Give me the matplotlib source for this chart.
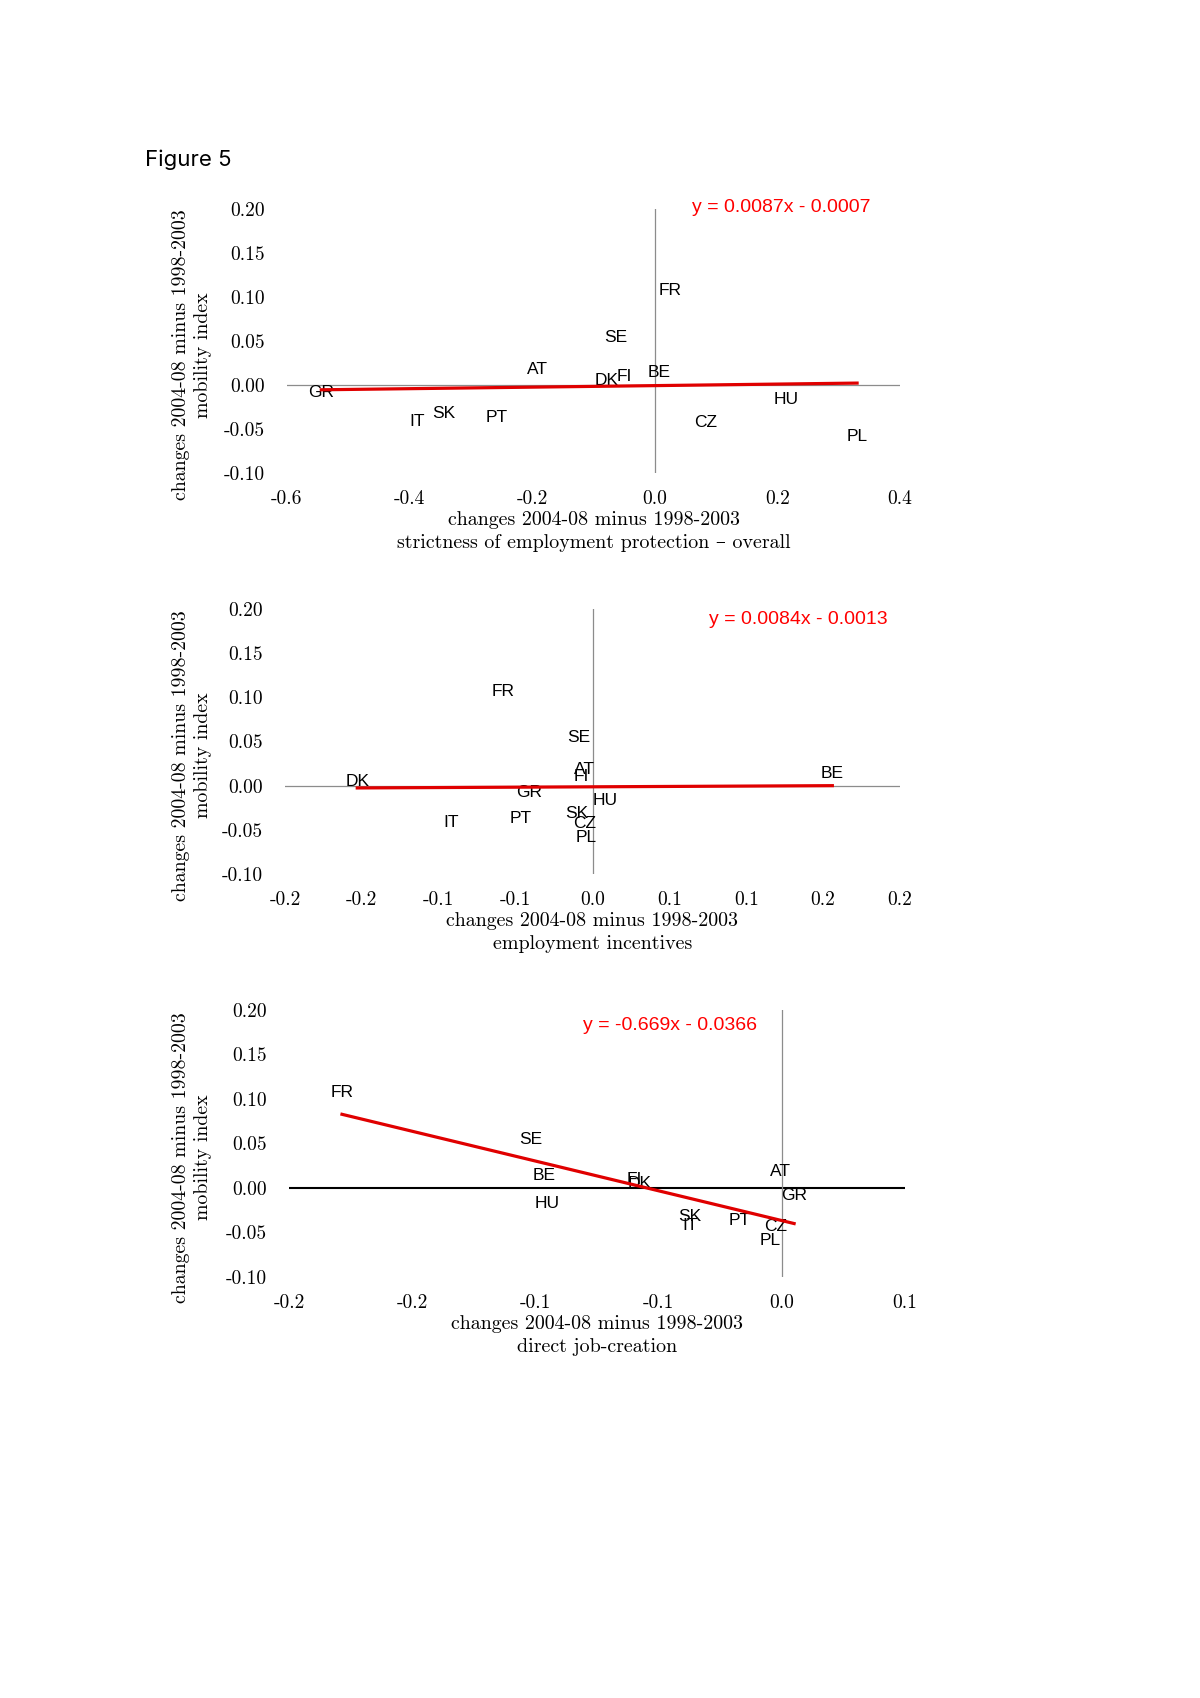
import numpy as np
import matplotlib
matplotlib.use("Agg")
import matplotlib.pyplot as plt

# country codes, same order in every array below
countries = ['AT', 'BE', 'CZ', 'DK', 'FI', 'FR', 'GR', 'HU', 'IT', 'PL', 'PT', 'SE', 'SK']

# changes 2004-08 minus 1998-2003, mobility index (y of every panel)
mobility = [0.018, 0.014, -0.043, 0.005, 0.010, 0.107, -0.008, -0.017, -0.042, -0.059, -0.037, 0.054, -0.032]

# x of each panel
epl_overall = [-0.192, 0.007, 0.083, -0.079, -0.049, 0.025, -0.544, 0.214, -0.387, 0.330, -0.258, -0.064, -0.344]
emp_incentives = [-0.005, 0.156, -0.005, -0.153, -0.007, -0.058, -0.041, 0.008, -0.092, -0.004, -0.047, -0.009, -0.010]
job_creation = [-0.0004, -0.0965, -0.0026, -0.0575, -0.060, -0.1785, 0.005, -0.0952, -0.0373, -0.0048, -0.0171, -0.1018, -0.0373]

# trendlines as printed on the chart
slopes = [0.0087, 0.0084, -0.669]
intercepts = [-0.0007, -0.0013, -0.0366]
equations = ['y = 0.0087x - 0.0007', 'y = 0.0084x - 0.0013', 'y = -0.669x - 0.0366']

xlabels2 = ['strictness of employment protection \u2013 overall', 'employment incentives', 'direct job-creation']
xticks = [[-0.6, -0.4, -0.2, 0.0, 0.2, 0.4],
          [-0.2, -0.15, -0.1, -0.05, 0.0, 0.05, 0.1, 0.15, 0.2],
          [-0.2, -0.15, -0.1, -0.05, 0.0, 0.05]]
xtick_labels = [['-0.6', '-0.4', '-0.2', '0.0', '0.2', '0.4'],
                ['-0.2', '-0.2', '-0.1', '-0.1', '0.0', '0.1', '0.1', '0.2', '0.2'],
                ['-0.2', '-0.2', '-0.1', '-0.1', '0.0', '0.1']]
yticks = [0.20, 0.15, 0.10, 0.05, 0.00, -0.05, -0.10]
ytick_labels = ['0.20', '0.15', '0.10', '0.05', '0.00', '-0.05', '-0.10']

xs = [epl_overall, emp_incentives, job_creation]

W, H = 1200, 1698
fig = plt.figure(figsize=(W / 100, H / 100), dpi=100)

serif = ['cmr10', 'DejaVu Serif']
sans = 'Liberation Sans'

# axes boxes in pixels: left, right, top, bottom
boxes = [(287, 900, 209, 473), (285, 900, 609, 874), (289, 905, 1010, 1277)]
eq_pos = [(781, 208), (798, 620), (670, 1025)]

fig.text(145 / W, 1 - 160 / H, 'Figure 5', family='Inter', fontsize=16, va='center', ha='left')

for i in range(3):
    l, r, t, b = boxes[i]
    ax = fig.add_axes([l / W, 1 - b / H, (r - l) / W, (b - t) / H])
    x = np.array(xs[i])
    y = np.array(mobility)
    ax.set_xlim(xticks[i][0], xticks[i][-1])
    ax.set_ylim(-0.10, 0.20)
    for s in ax.spines.values():
        s.set_visible(False)

    hcol = 'black' if i == 2 else '#8c8c8c'
    hlw = 1.5 if i == 2 else 0.9
    ax.axhline(0, color=hcol, lw=hlw, zorder=1)
    ax.axvline(0, color='#8c8c8c', lw=0.9, zorder=1)

    for c, xv, yv in zip(countries, x, y):
        ax.text(xv, yv, c, family=sans, fontsize=12.5, ha='center', va='center', zorder=2)

    xx = np.array([x.min(), x.max()])
    ax.plot(xx, slopes[i] * xx + intercepts[i], color='#e00000', lw=2.3, zorder=3)

    ax.set_xticks(xticks[i])
    ax.set_xticklabels(xtick_labels[i], family=serif, fontsize=14)
    ax.set_yticks(yticks)
    ax.set_yticklabels(ytick_labels, family=serif, fontsize=14)
    ax.tick_params(length=0, pad=12)
    ax.tick_params(axis='y', pad=16)

    cx = (l + r) / 2
    fig.text(cx / W, 1 - (b + 47) / H, 'changes 2004-08 minus 1998-2003', family=serif,
             fontsize=14.4, ha='center', va='center')
    fig.text(cx / W, 1 - (b + 70) / H, xlabels2[i], family=serif,
             fontsize=14.4, ha='center', va='center')

    cy = (t + b) / 2 + 14
    fig.text(181 / W, 1 - cy / H, 'changes 2004-08 minus 1998-2003', family=serif,
             fontsize=14.3, rotation=90, ha='center', va='center')
    fig.text(203 / W, 1 - cy / H, 'mobility index', family=serif,
             fontsize=14.3, rotation=90, ha='center', va='center')

    ex, ey = eq_pos[i]
    fig.text(ex / W, 1 - ey / H, equations[i], family=sans, fontsize=14,
             color='#ff0000', ha='center', va='center')

fig.savefig('out.png', dpi=100, facecolor='white')
